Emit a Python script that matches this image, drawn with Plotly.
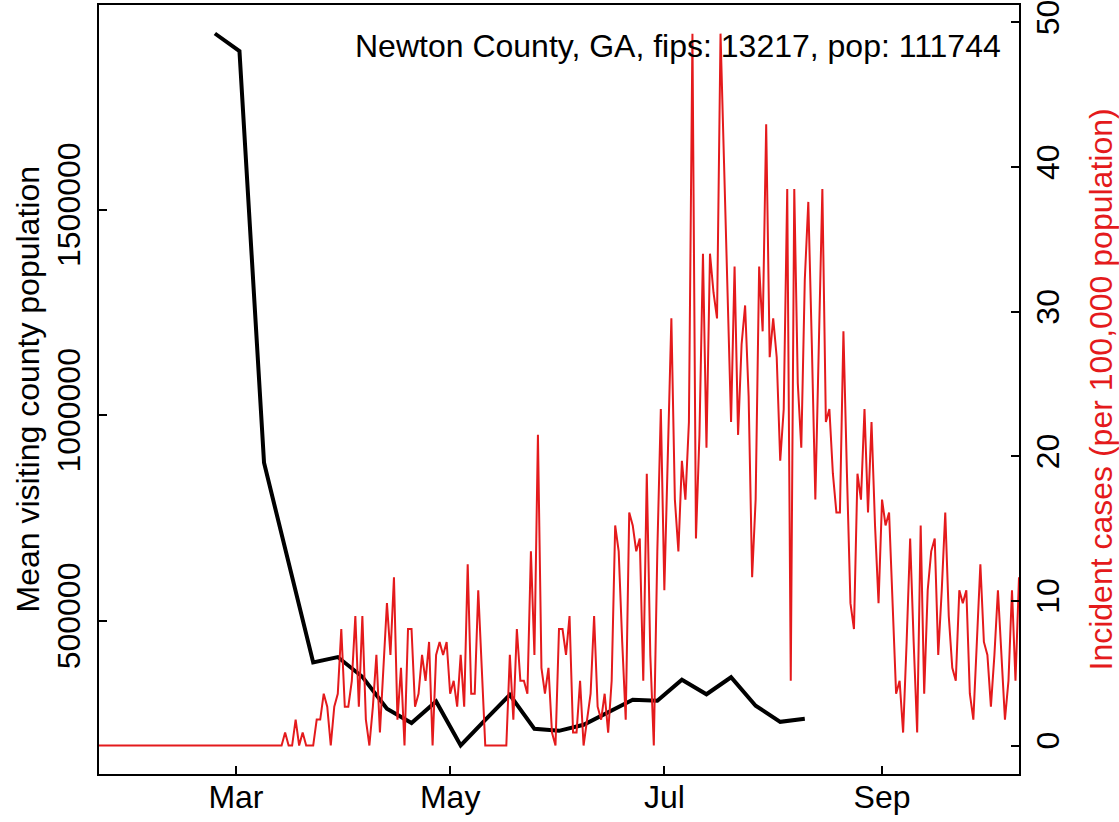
import pandas as pd
import plotly.graph_objects as go

# ---- data ----
county_label = "Newton County, GA, fips: 13217, pop: 111744"
population = 111744

# weekly mean visiting county population (weeks starting Mondays)
visit_start = "2020-02-24"
visit_values = [1928000, 1885000, 884000, 640000, 398500, 411700, 363700, 285900,
                251100, 303600, 196600, 259100, 320000, 237200, 232300, 247000,
                278600, 307800, 305300, 356400, 321200, 362500, 293200, 254200,
                261500]

# daily incident case counts, starting 2020-01-22
case_start = "2020-01-22"
case_counts = [
    0, 0, 0, 0, 0, 0, 0, 0, 0, 0,
    0, 0, 0, 0, 0, 0, 0, 0, 0, 0,
    0, 0, 0, 0, 0, 0, 0, 0, 0, 0,
    0, 0, 0, 0, 0, 0, 0, 0, 0, 0,
    0, 0, 0, 0, 0, 0, 0, 0, 0, 0,
    0, 0, 0,
    1, 0, 0, 2, 0, 1, 0, 0, 0, 2,
    2, 4, 3, 0, 3, 4, 9, 3, 3, 5,
    10, 3, 10, 2, 0, 3, 7, 1, 6, 11,
    7, 13, 2, 6, 0, 9, 9, 3, 4, 7,
    5, 8, 0, 7, 8, 7, 8, 4, 5, 3,
    7, 3, 14, 4, 4, 12, 6, 0, 0, 0,
    0, 0, 0, 0, 7, 2, 9, 5, 5, 4,
    15, 7, 24, 6, 4, 6, 1, 0, 9, 9,
    7, 10, 1, 1, 5, 0, 2, 4, 10, 3,
    2, 4, 1, 5, 17, 15, 8, 2, 18, 17,
    15, 16, 5, 21, 7, 0, 15, 26, 12, 22,
    33, 19, 15, 22, 19, 25, 55, 16, 24, 38,
    23, 38, 35, 33, 55, 45, 35, 25, 37, 24,
    31, 34, 27, 13, 19, 37, 32, 48, 30, 33,
    30, 22, 26, 43, 5, 43, 28, 23, 36, 42,
    31, 19, 31, 43, 25, 26, 21, 18, 18, 32,
    21, 11, 9, 21, 19, 26, 18, 25, 17, 11,
    19, 17, 18, 11, 4, 5, 1, 8, 16, 8,
    1, 17, 4, 12, 15, 16, 7, 12, 18, 10,
    6, 5, 12, 11, 12, 4, 2, 8, 14, 8,
    7, 3, 7, 12, 7, 2, 5, 12, 5, 13,
]

month_ticks = ["2020-03-01", "2020-05-01", "2020-07-01", "2020-09-01"]
month_labels = ["Mar", "May", "Jul", "Sep"]
left_ticks = [500000, 1000000, 1500000]
left_labels = ["500000", "1000000", "1500000"]
right_ticks = [0, 10, 20, 30, 40, 50]
left_title = "Mean visiting county population"
right_title = "Incident cases (per 100,000 population)"

# ---- derived ----
visit_dates = pd.date_range(visit_start, periods=len(visit_values), freq="7D")
case_dates = pd.date_range(case_start, periods=len(case_counts), freq="D")
incidence = [c * 100000 / population for c in case_counts]

RED = "#E41A1C"
FONT = "Liberation Sans, Arial, Helvetica, sans-serif"

fig = go.Figure()
fig.add_trace(go.Scatter(x=visit_dates, y=visit_values, mode="lines",
                         line=dict(color="black", width=4), yaxis="y",
                         showlegend=False, hoverinfo="skip"))
fig.add_trace(go.Scatter(x=case_dates, y=incidence, mode="lines",
                         line=dict(color=RED, width=2), yaxis="y2",
                         showlegend=False, hoverinfo="skip"))

axis_common = dict(showgrid=False, zeroline=False, showline=True, linecolor="black",
                   linewidth=2, ticks="inside", ticklen=8, tickwidth=2, automargin=False,
                   ticklabeloverflow="allow",
                   tickcolor="black", tickfont=dict(size=32, color="black", family=FONT))

PL, PR, PT, PB = 99, 100, 5, 48
W, H = 1119, 822
pw = W - PL - PR
ph = H - PT - PB

fig.update_layout(
    width=W, height=H,
    margin=dict(l=PL, r=PR, t=PT, b=PB, autoexpand=False),
    paper_bgcolor="white", plot_bgcolor="white",
    font=dict(family=FONT, size=32, color="black"),
    xaxis=dict(**axis_common, type="date", range=["2020-01-22", "2020-10-10"],
               tickvals=month_ticks, ticktext=month_labels, mirror=True,
               ticklabelstandoff=-6),
    yaxis=dict(**axis_common, range=[127300, 1997300], tickvals=left_ticks,
               ticktext=left_labels, tickangle=-90, ticklabelstandoff=4),
    yaxis2=dict(**axis_common, overlaying="y", side="right", range=[-1.97, 51.2],
                tickvals=right_ticks, tickangle=-90, ticklabelstandoff=0),
    annotations=[
        dict(text=county_label, xref="paper", yref="paper",
             x=(1003 - PL) / pw, y=(H - PB - 46) / ph, xanchor="right", yanchor="middle",
             showarrow=False, font=dict(size=32, color="black", family=FONT)),
        dict(text=left_title, xref="paper", yref="paper",
             x=(27 - PL) / pw, y=0.5, xanchor="center", yanchor="middle",
             textangle=-90, showarrow=False,
             font=dict(size=32, color="black", family=FONT)),
        dict(text=right_title, xref="paper", yref="paper",
             x=(1100 - PL) / pw, y=0.5, xanchor="center", yanchor="middle",
             textangle=-90, showarrow=False,
             font=dict(size=32, color=RED, family=FONT)),
    ],
)

fig.write_html("out.html", config={"displayModeBar": False},
               post_script="document.body.style.margin='0px';document.body.style.overflow='hidden';")
